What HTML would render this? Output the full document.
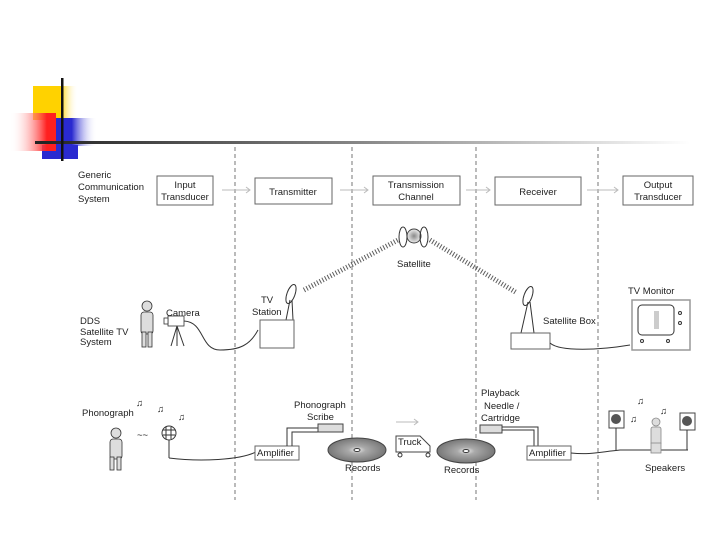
<!DOCTYPE html>
<html><head><meta charset="utf-8"><style>
html,body{margin:0;padding:0;background:#fff;width:720px;height:540px;overflow:hidden}
svg{display:block}
text{font-family:"Liberation Sans",sans-serif;font-size:9.5px;fill:#222}
</style></head><body>
<svg width="720" height="540" viewBox="0 0 720 540" xmlns="http://www.w3.org/2000/svg">
<defs>
<linearGradient id="hl" x1="0" x2="1"><stop offset="0" stop-color="#222"/><stop offset="0.5" stop-color="#888"/><stop offset="1" stop-color="#fff"/></linearGradient>
<linearGradient id="yl" x1="0" x2="1"><stop offset="0.6" stop-color="#ffd200"/><stop offset="1" stop-color="#fff" stop-opacity="0"/></linearGradient>
<linearGradient id="rd" x1="1" x2="0"><stop offset="0.2" stop-color="#ff2020"/><stop offset="1" stop-color="#fff" stop-opacity="0"/></linearGradient>
<linearGradient id="bl" x1="0" x2="1"><stop offset="0.4" stop-color="#2a2ad0"/><stop offset="1" stop-color="#fff" stop-opacity="0"/></linearGradient>
<radialGradient id="rec"><stop offset="0" stop-color="#eee"/><stop offset="0.3" stop-color="#aaa"/><stop offset="1" stop-color="#777"/></radialGradient>
<radialGradient id="sat"><stop offset="0" stop-color="#888"/><stop offset="1" stop-color="#eee"/></radialGradient>
</defs>
<rect x="33" y="86" width="45" height="34" fill="url(#yl)"/>
<rect x="55" y="118" width="42" height="28" fill="url(#bl)"/>
<rect x="42" y="145" width="36" height="14" fill="#2a2ad0"/>
<rect x="10" y="113" width="46" height="38" fill="url(#rd)"/>
<rect x="35" y="141" width="655" height="3" fill="url(#hl)"/>
<rect x="61" y="78" width="2.5" height="83" fill="#111"/>
<g stroke="#555" stroke-width="0.8" stroke-dasharray="4,3">
<line x1="235" y1="147" x2="235" y2="500"/><line x1="352" y1="147" x2="352" y2="500"/>
<line x1="476" y1="147" x2="476" y2="500"/><line x1="598" y1="147" x2="598" y2="500"/>
</g>
<text x="78" y="178">Generic</text><text x="78" y="190">Communication</text><text x="78" y="202">System</text>
<g fill="#fff" stroke="#666" stroke-width="1">
<rect x="157" y="176" width="56" height="29"/><rect x="255" y="178" width="77" height="26"/>
<rect x="373" y="176" width="87" height="29"/><rect x="495" y="177" width="86" height="28"/>
<rect x="623" y="176" width="70" height="29"/>
</g>
<g text-anchor="middle">
<text x="185" y="188">Input</text><text x="185" y="200">Transducer</text>
<text x="293" y="195">Transmitter</text>
<text x="416" y="188">Transmission</text><text x="416" y="200">Channel</text>
<text x="538" y="195">Receiver</text>
<text x="658" y="188">Output</text><text x="658" y="200">Transducer</text>
</g>
<g stroke="#bbb" stroke-width="1" fill="none">
<path d="M222 190H250M246 187l4 3-4 3"/><path d="M340 190H368M364 187l4 3-4 3"/>
<path d="M466 190H490M486 187l4 3-4 3"/><path d="M587 190H618M614 187l4 3-4 3"/>
</g>
<circle cx="414" cy="236" r="7" fill="url(#sat)" stroke="#444"/>
<ellipse cx="403" cy="237" rx="4" ry="10" fill="none" stroke="#333"/>
<ellipse cx="424" cy="237" rx="4" ry="10" fill="none" stroke="#333"/>
<text x="397" y="267">Satellite</text>
<g stroke="#333" stroke-width="1" fill="none">
<path d="M304 290 L398 240" stroke-dasharray="1,2" stroke-width="5" opacity="0.8"/>
<path d="M430 240 L517 293" stroke-dasharray="1,2" stroke-width="5" opacity="0.8"/>
</g>
<ellipse cx="291" cy="294" rx="4" ry="10" fill="none" stroke="#333" transform="rotate(20 291 294)"/>
<path d="M290 300 L286 320 M292 300 L293 320" stroke="#333" fill="none"/>
<rect x="260" y="320" width="34" height="28" fill="#fff" stroke="#666"/>
<text x="261" y="303">TV</text><text x="252" y="315">Station</text>
<g stroke="#333" fill="#ddd" stroke-width="0.8">
<circle cx="147" cy="306" r="5"/><rect x="141" y="312" width="12" height="22" rx="3"/>
<rect x="142" y="332" width="4" height="15"/><rect x="148" y="332" width="4" height="15"/>
<rect x="168" y="316" width="16" height="10" fill="#fff"/><rect x="164" y="318" width="4" height="6" fill="#fff"/>
</g>
<path d="M177 326 L171 346 M177 326 L177 346 M177 326 L184 346" stroke="#333" fill="none"/>
<path d="M184 321 C205 322 200 350 220 350 C240 350 250 345 258 330" stroke="#333" fill="none"/>
<text x="166" y="316">Camera</text>
<text x="80" y="324">DDS</text><text x="80" y="335" font-size="9">Satellite TV</text><text x="80" y="345" font-size="9">System</text>
<ellipse cx="528" cy="296" rx="4" ry="10" fill="none" stroke="#333" transform="rotate(20 528 296)"/>
<path d="M528 302 L521 333 M530 302 L534 333" stroke="#333" fill="none"/>
<rect x="511" y="333" width="39" height="16" fill="#fff" stroke="#666"/>
<text x="543" y="324">Satellite Box</text>
<path d="M550 343 C560 352 600 350 630 345" stroke="#333" fill="none"/>
<text x="628" y="294">TV Monitor</text>
<rect x="632" y="300" width="58" height="50" fill="#fff" stroke="#999" stroke-width="1.5"/>
<rect x="638" y="305" width="36" height="30" rx="4" fill="#fff" stroke="#333"/>
<rect x="654" y="311" width="5" height="18" fill="#ccc"/>
<circle cx="680" cy="313" r="1.5" fill="none" stroke="#333"/><circle cx="680" cy="323" r="1.5" fill="none" stroke="#333"/>
<circle cx="642" cy="341" r="1.5" fill="none" stroke="#333"/><circle cx="668" cy="341" r="1.5" fill="none" stroke="#333"/>
<text x="82" y="416">Phonograph</text>
<g stroke="#333" fill="#ddd" stroke-width="0.8">
<circle cx="116" cy="433" r="5"/><rect x="110" y="439" width="12" height="20" rx="3"/>
<rect x="110" y="457" width="4" height="13"/><rect x="117" y="457" width="4" height="13"/>
</g>
<text x="137" y="438" font-size="8">~~</text>
<circle cx="169" cy="433" r="7" fill="#fff" stroke="#333"/><path d="M163 430h12M163 435h12M166 427v12M171 427v12" stroke="#333"/>
<path d="M169 440V458" stroke="#333"/>
<path d="M169 458 C200 462 240 460 256 452" stroke="#333" fill="none"/>
<g fill="#bbb" font-size="22"><text x="136" y="406">♫</text><text x="157" y="412">♫</text><text x="178" y="420">♫</text>
<text x="637" y="404">♫</text><text x="660" y="414">♫</text><text x="630" y="422">♫</text></g>
<rect x="255" y="446" width="44" height="14" fill="#fff" stroke="#666"/><text x="257" y="456">Amplifier</text>
<path d="M287 446V428H318M292 446V432H318" stroke="#333" fill="none"/>
<rect x="318" y="424" width="25" height="8" fill="#ddd" stroke="#444"/>
<text x="294" y="408">Phonograph</text><text x="307" y="420">Scribe</text>
<ellipse cx="357" cy="450" rx="29" ry="12" fill="url(#rec)" stroke="#444"/><ellipse cx="357" cy="450" rx="3" ry="1.5" fill="#fff" stroke="#333"/>
<text x="345" y="471">Records</text>
<path d="M396 422H418M414 419l4 3-4 3" stroke="#bbb" fill="none"/>
<path d="M396 436H420L430 446V452H396Z" fill="#fff" stroke="#444"/><text x="398" y="445">Truck</text>
<circle cx="400" cy="455" r="2" fill="none" stroke="#333"/><circle cx="428" cy="455" r="2" fill="none" stroke="#333"/>
<ellipse cx="466" cy="451" rx="29" ry="12" fill="url(#rec)" stroke="#444"/><ellipse cx="466" cy="451" rx="3" ry="1.5" fill="#fff" stroke="#333"/>
<text x="444" y="473">Records</text>
<text x="481" y="396">Playback</text><text x="484" y="409">Needle /</text><text x="481" y="421">Cartridge</text>
<rect x="480" y="425" width="22" height="8" fill="#ddd" stroke="#444"/>
<path d="M502 427H538V446M502 430H534V446" stroke="#333" fill="none"/>
<rect x="527" y="446" width="44" height="14" fill="#fff" stroke="#666"/><text x="529" y="456">Amplifier</text>
<path d="M571 453 C590 455 600 452 620 450 H688" stroke="#333" fill="none"/>
<rect x="609" y="411" width="15" height="17" fill="#fff" stroke="#444"/><circle cx="616" cy="419" r="5" fill="#555"/>
<rect x="680" y="413" width="15" height="17" fill="#fff" stroke="#444"/><circle cx="687" cy="421" r="5" fill="#555"/>
<path d="M616 428V450M687 430V450" stroke="#333"/>
<g stroke="#888" fill="#ddd" stroke-width="0.8"><circle cx="656" cy="422" r="4"/><rect x="651" y="427" width="10" height="18" rx="2"/><rect x="651" y="443" width="10" height="10"/></g>
<text x="645" y="471">Speakers</text>
</svg>
</body></html>
